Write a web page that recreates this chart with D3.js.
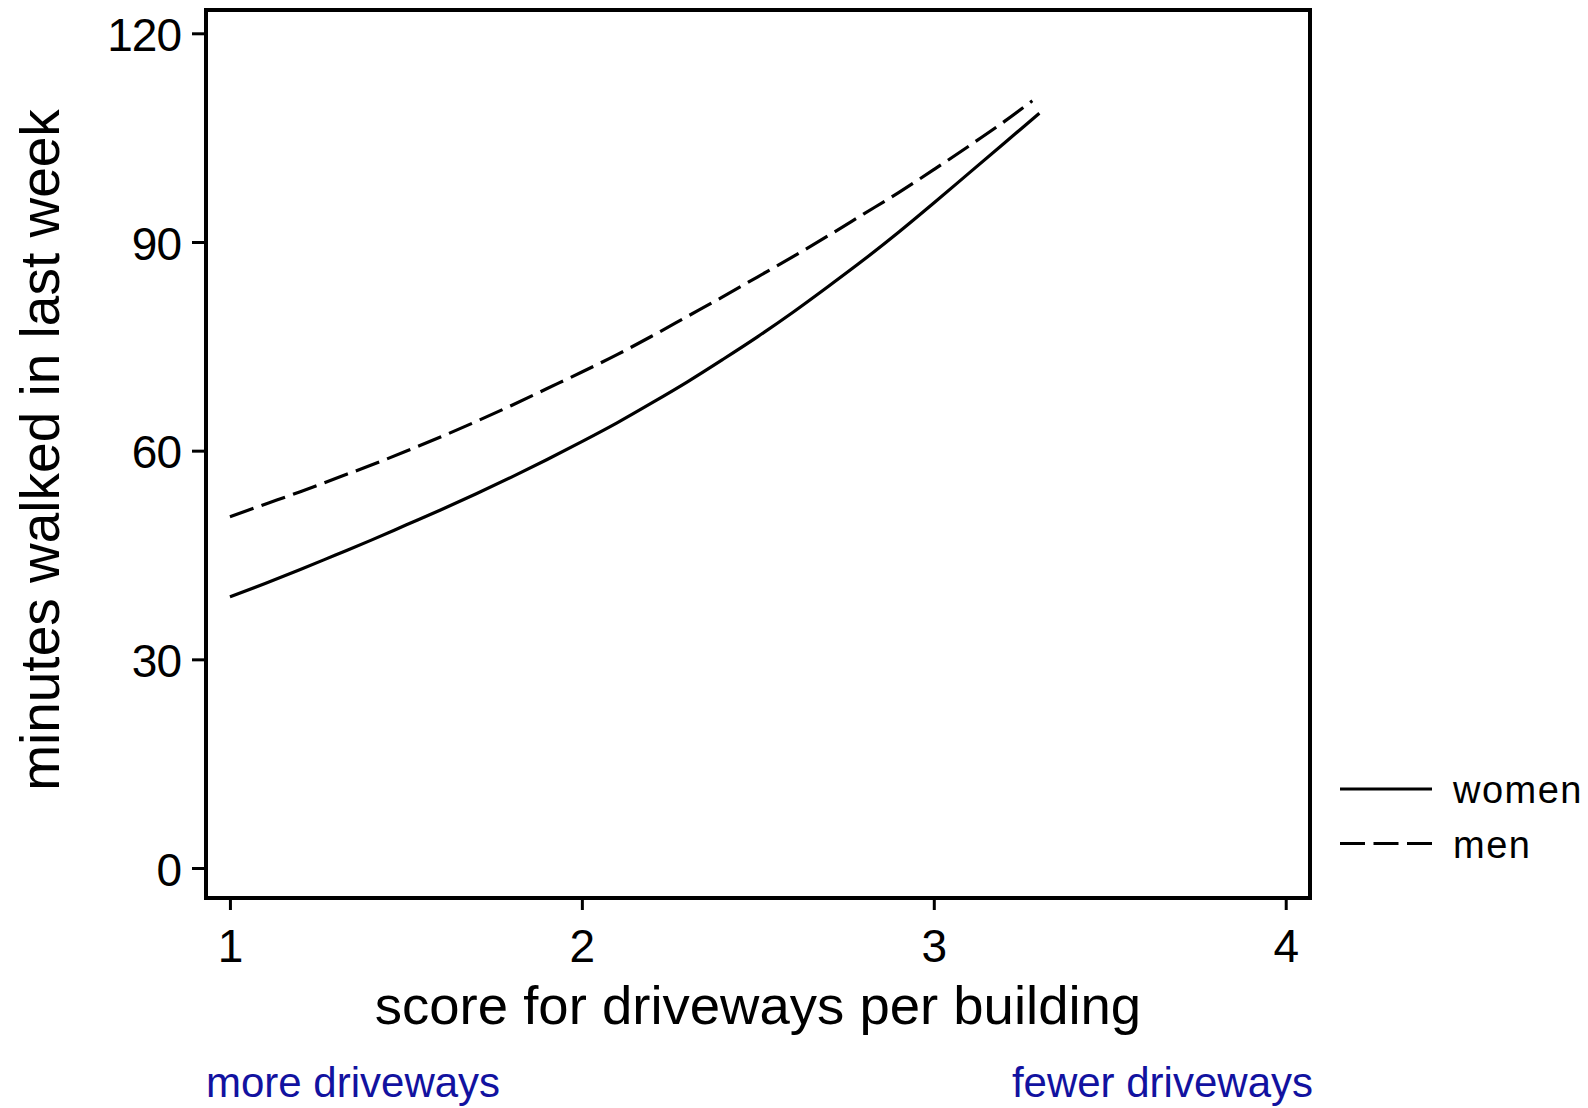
<!DOCTYPE html>
<html>
<head>
<meta charset="utf-8">
<script src="https://cdn.jsdelivr.net/npm/d3@7"></script>
<style>
  html, body { margin: 0; padding: 0; background: #fff; }
  svg { display: block; }
  text { font-family: "Liberation Sans", Arial, Helvetica, sans-serif; fill: #000; }
</style>
</head>
<body>
<script>
// Fitted minutes walked by driveway score, per sex
const scoreWomen = [1.0, 1.1, 1.2, 1.3, 1.4, 1.5, 1.6, 1.7, 1.8, 1.9, 2.0, 2.1, 2.2, 2.3, 2.4, 2.5, 2.6, 2.7, 2.8, 2.9, 3.0, 3.1, 3.2, 3.3];
const minutesWomen = [39.0, 40.9, 42.9, 45.0, 47.1, 49.3, 51.5, 53.8, 56.2, 58.7, 61.3, 64.0, 66.9, 69.9, 73.1, 76.4, 79.9, 83.6, 87.4, 91.4, 95.6, 99.9, 104.2, 108.5];
const scoreMen = [1.0, 1.1, 1.2, 1.3, 1.4, 1.5, 1.6, 1.7, 1.8, 1.9, 2.0, 2.1, 2.2, 2.3, 2.4, 2.5, 2.6, 2.7, 2.8, 2.9, 3.0, 3.1, 3.2, 3.28];
const minutesMen = [50.5, 52.3, 54.1, 56.0, 57.9, 59.9, 62.0, 64.2, 66.5, 68.9, 71.3, 73.8, 76.5, 79.3, 82.1, 85.0, 87.9, 90.9, 94.0, 97.1, 100.4, 103.8, 107.3, 110.3];

const xTicks = [1, 2, 3, 4];
const yTicks = [0, 30, 60, 90, 120];
const seriesNames = ["women", "men"];
const xTitle = "score for driveways per building";
const yTitle = "minutes walked in last week";
const lowNote = "more driveways";
const highNote = "fewer driveways";

const W = 1588, H = 1108;
const plot = { left: 206, right: 1310, top: 10, bottom: 898 };
const font = '"Liberation Sans", Arial, Helvetica, sans-serif';

const svg = d3.select("body").append("svg")
  .attr("width", W).attr("height", H);

const x = d3.scaleLinear().domain([0.932, 4.069]).range([plot.left, plot.right]);
const y = d3.scaleLinear().domain([-4.31, 123.35]).range([plot.bottom, plot.top]);

// Axes
const yAxis = svg.append("g")
  .attr("transform", `translate(${plot.left},0)`)
  .call(d3.axisLeft(y).tickValues(yTicks).tickSize(14).tickPadding(11).tickFormat(d3.format("d")));
yAxis.select(".domain").remove();
yAxis.selectAll(".tick line").attr("stroke", "#000").attr("stroke-width", 3);
yAxis.selectAll(".tick text")
  .attr("font-family", font).attr("font-size", 46).attr("letter-spacing", "-1px")
  .attr("dy", "0.37em").attr("fill", "#000");

const xAxis = svg.append("g")
  .attr("transform", `translate(0,${plot.bottom})`)
  .call(d3.axisBottom(x).tickValues(xTicks).tickSize(12).tickPadding(19).tickFormat(d3.format("d")));
xAxis.select(".domain").remove();
xAxis.selectAll(".tick line").attr("stroke", "#000").attr("stroke-width", 3);
xAxis.selectAll(".tick text")
  .attr("font-family", font).attr("font-size", 46).attr("fill", "#000");

// Plot frame
svg.append("rect")
  .attr("x", plot.left).attr("y", plot.top)
  .attr("width", plot.right - plot.left).attr("height", plot.bottom - plot.top)
  .attr("fill", "none").attr("stroke", "#000").attr("stroke-width", 4);

// Curves
const line = d3.line()
  .x(d => x(d[0])).y(d => y(d[1]))
  .curve(d3.curveMonotoneX);

const dashes = ["none", "25,8.5"];
const series = [
  d3.zip(scoreWomen, minutesWomen),
  d3.zip(scoreMen, minutesMen)
];

svg.append("g").selectAll("path")
  .data(series)
  .join("path")
  .attr("d", line)
  .attr("fill", "none")
  .attr("stroke", "#000")
  .attr("stroke-width", 3.2)
  .attr("stroke-dasharray", (d, i) => dashes[i]);

// Legend
const legend = svg.append("g").attr("transform", "translate(1340,789)");
const leg = legend.selectAll("g").data(seriesNames).join("g")
  .attr("transform", (d, i) => `translate(0,${i * 54.5})`);
leg.append("line")
  .attr("x1", 0).attr("x2", 92).attr("y1", 0).attr("y2", 0)
  .attr("stroke", "#000").attr("stroke-width", 3)
  .attr("stroke-dasharray", (d, i) => dashes[i]);
leg.append("text")
  .attr("x", 113).attr("y", 14)
  .attr("font-size", 38).attr("letter-spacing", "1.5px")
  .text(d => d);

// Axis titles
svg.append("text")
  .attr("x", (plot.left + plot.right) / 2).attr("y", 1024)
  .attr("text-anchor", "middle").attr("font-size", 54.5)
  .text(xTitle);

svg.append("text")
  .attr("transform", "translate(59,450) rotate(-90)")
  .attr("text-anchor", "middle").attr("font-size", 55)
  .text(yTitle);

// Direction notes under the x axis
svg.append("text")
  .attr("x", plot.left).attr("y", 1097)
  .attr("font-size", 42).style("fill", "#1212a0")
  .text(lowNote);
svg.append("text")
  .attr("x", plot.right + 3).attr("y", 1097)
  .attr("text-anchor", "end")
  .attr("font-size", 42).style("fill", "#1212a0")
  .text(highNote);
</script>
</body>
</html>
